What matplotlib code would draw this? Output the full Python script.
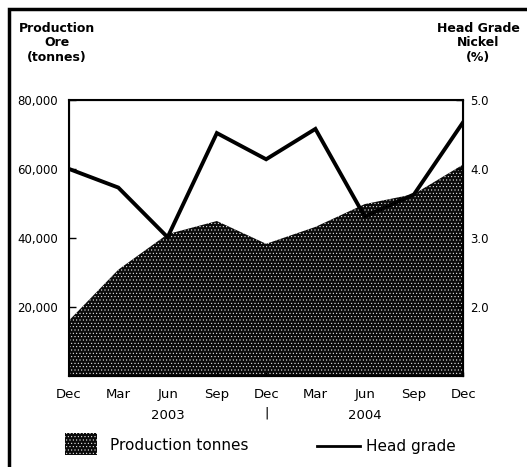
import numpy as np
import matplotlib.pyplot as plt
from matplotlib.patches import Rectangle
from matplotlib.lines import Line2D

plt.rcParams['hatch.color'] = 'white'
plt.rcParams['hatch.linewidth'] = 0.35

# Data (quarterly, Dec 2002 - Dec 2004)
months = ['Dec', 'Mar', 'Jun', 'Sep', 'Dec', 'Mar', 'Jun', 'Sep', 'Dec']
production = [16100, 30800, 41100, 44900, 38300, 43200, 49800, 52700, 61300]
head_grade = [4.00, 3.73, 3.01, 4.52, 4.14, 4.58, 3.31, 3.63, 4.68]
left_ticks = [20000, 40000, 60000, 80000]
right_ticks = [2.0, 3.0, 4.0, 5.0]

x = np.arange(len(months))

fig = plt.figure(figsize=(5.27, 4.67), dpi=100)
ax = fig.add_axes([0.131, 0.195, 0.748, 0.591])

# production area, dark with fine white dots
ax.fill_between(x, 0, production, facecolor='#0a0a0a', edgecolor='white',
                hatch='.....', linewidth=0)
ax.set_xlim(0, 8)
ax.set_ylim(0, 80000)
ax.set_yticks(left_ticks)
ax.set_yticklabels([f'{v:,}' for v in left_ticks])
ax.set_xticks(x)
ax.set_xticklabels(months)
ax.tick_params(axis='y', direction='in', labelsize=8.5, length=5, width=1, pad=8)
ax.tick_params(axis='x', direction='in', labelsize=9.5, length=3, width=1, pad=9)
for s in ax.spines.values():
    s.set_linewidth(1.5)

ax2 = ax.twinx()
ax2.plot(x, head_grade, color='black', linewidth=2.8, solid_joinstyle='miter')
ax2.set_ylim(1.0, 5.0)
ax2.set_yticks(right_ticks)
ax2.set_yticklabels([f'{v:.1f}' for v in right_ticks])
ax2.tick_params(axis='y', direction='in', labelsize=8.5, length=5, width=1, pad=5)
ax2.set_xlim(0, 8)

# axis titles
fig.text(57 / 527, 1 - 22 / 467, 'Production\nOre\n(tonnes)', ha='center', va='top',
         fontsize=9, fontweight='bold', linespacing=1.15)
fig.text(478 / 527, 1 - 22 / 467, 'Head Grade\nNickel\n(%)', ha='center', va='top',
         fontsize=9, fontweight='bold', linespacing=1.15)

# year labels below month ticks
ax.text(2, -0.12, '2003', transform=ax.get_xaxis_transform(), ha='center',
        va='top', fontsize=9.5)
ax.text(6, -0.12, '2004', transform=ax.get_xaxis_transform(), ha='center',
        va='top', fontsize=9.5)
ax.text(4, -0.11, '|', transform=ax.get_xaxis_transform(), ha='center',
        va='top', fontsize=9.5)

# legend drawn by hand
fig.patches.append(Rectangle((65 / 527, 1 - 455 / 467), 32 / 527, 22 / 467,
                             transform=fig.transFigure, facecolor='#0a0a0a',
                             edgecolor='white', hatch='.....', linewidth=0))
fig.text(110 / 527, 1 - 446 / 467, 'Production tonnes', ha='left',
         va='center', fontsize=11)
fig.lines.append(Line2D([317 / 527, 360 / 527], [1 - 446 / 467, 1 - 446 / 467],
                        transform=fig.transFigure, color='black', linewidth=2))
fig.text(366 / 527, 1 - 446 / 467, 'Head grade', ha='left', va='center',
         fontsize=11)

# outer frame
fig.patches.append(Rectangle((9 / 527, -0.1), 1.2, 1 - 9 / 467 + 0.1,
                             transform=fig.transFigure, fill=False,
                             edgecolor='black', linewidth=2.5))

fig.savefig('out.png', dpi=100)
